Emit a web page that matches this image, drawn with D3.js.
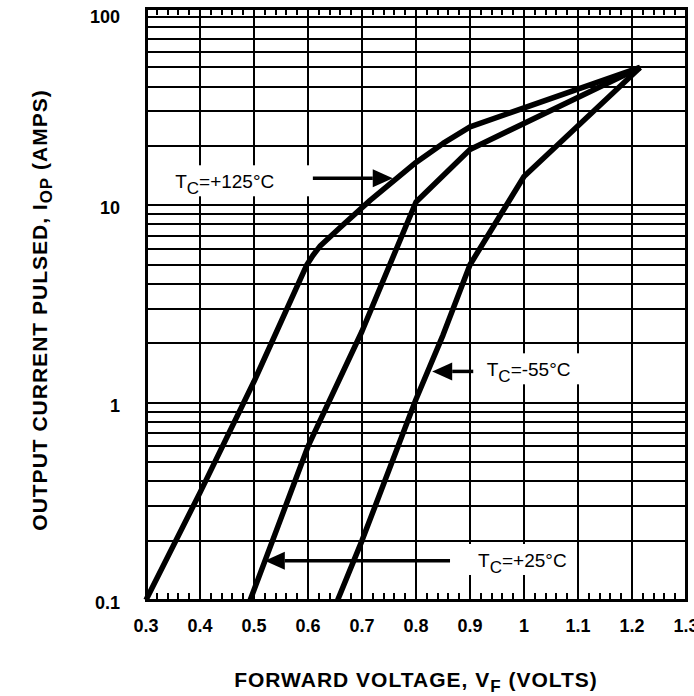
<!DOCTYPE html>
<html>
<head>
<meta charset="utf-8">
<script src="https://cdn.jsdelivr.net/npm/d3@7"></script>
<style>
  body { margin: 0; background: #fff; }
  svg { display: block; font-family: "Liberation Sans", Arial, Helvetica, sans-serif; }
</style>
</head>
<body>
<svg id="chart"></svg>
<script>
// curves: forward voltage (V) vs pulsed current (A)
var volts125 = [0.3, 0.4, 0.5, 0.598, 0.609, 0.622, 0.659, 0.715, 0.8, 0.85, 0.9, 1.215];
var amps125  = [0.1, 0.35, 1.28, 5.0, 5.57, 6.2, 7.7, 10.6, 16.5, 20.6, 25, 50];

var volts25 = [0.493, 0.6, 0.7, 0.8, 0.9, 1.215];
var amps25  = [0.1, 0.6, 2.3, 10.4, 19.2, 50];

var voltsM55 = [0.655, 0.7, 0.8, 0.85, 0.9, 1.0, 1.215];
var ampsM55  = [0.1, 0.2, 1.04, 2.2, 5.0, 14, 50];

var xTickLabels = ['0.3', '0.4', '0.5', '0.6', '0.7', '0.8', '0.9', '1', '1.1', '1.2', '1.3'];
var yTickLabels = ['0.1', '1', '10', '100'];

// annotations (in data units)
var noteText = ['=+125°C', '=-55°C', '=+25°C'];
var noteX    = [0.354, 0.931, 0.915];
var noteY    = [12.2, 1.36, 0.147];
var arrowX0  = [0.609, 0.906, 0.863];
var arrowX1  = [0.757, 0.83, 0.52];
var arrowY   = [13.7, 1.44, 0.158];

var width = 694, height = 696;
var plot = {left: 146, right: 686, top: 8, bottom: 600};

var svg = d3.select('#chart')
    .attr('width', width)
    .attr('height', height);

var x = d3.scaleLinear().domain([0.3, 1.3]).range([plot.left, plot.right]);
var y = d3.scaleLog().domain([0.1, 100]).range([plot.bottom, plot.top]);

// grid
var grid = svg.append('g').attr('class', 'grid')
    .attr('stroke', '#000')
    .attr('stroke-width', 2)
    .attr('shape-rendering', 'crispEdges');

grid.selectAll('line.h')
    .data(y.ticks())
    .enter().append('line')
    .attr('class', 'h')
    .attr('x1', plot.left).attr('x2', plot.right)
    .attr('y1', function(d) {return y(d);})
    .attr('y2', function(d) {return y(d);});

grid.selectAll('line.v')
    .data(xTickLabels.map(Number))
    .enter().append('line')
    .attr('class', 'v')
    .attr('y1', plot.top).attr('y2', plot.bottom)
    .attr('x1', function(d) {return x(d);})
    .attr('x2', function(d) {return x(d);});

// minor ticks every 0.02 along top and bottom
var minor = d3.range(15, 65).filter(function(i) {return i % 5 !== 0;})
    .map(function(i) {return i / 50;});
var ticks = svg.append('g').attr('class', 'minor')
    .attr('stroke', '#000')
    .attr('stroke-width', 2)
    .attr('shape-rendering', 'crispEdges');
ticks.selectAll('line.b')
    .data(minor)
    .enter().append('line')
    .attr('x1', function(d) {return x(d);})
    .attr('x2', function(d) {return x(d);})
    .attr('y1', plot.bottom).attr('y2', plot.bottom - 7);
ticks.selectAll('line.t')
    .data(minor)
    .enter().append('line')
    .attr('x1', function(d) {return x(d);})
    .attr('x2', function(d) {return x(d);})
    .attr('y1', plot.top).attr('y2', plot.top + 7);

// annotations: white box, label, arrow
var notes = svg.append('g').attr('class', 'notes');
noteText.forEach(function(t, i) {
    var g = notes.append('g');
    var box = g.append('rect').attr('fill', '#fff');
    var txt = g.append('text')
        .attr('x', x(noteX[i]))
        .attr('y', y(noteY[i]))
        .attr('font-size', 19)
        .attr('fill', '#000');
    txt.append('tspan').text('T');
    txt.append('tspan').text('C').attr('font-size', 17).attr('dy', 6);
    txt.append('tspan').text(t).attr('dy', -6);

    var bb = txt.node().getBBox();
    var left = bb.x - 12, right = bb.x + bb.width + 10;
    if (x(arrowX0[i]) > right) right = x(arrowX0[i]) - 1;
    box.attr('x', left).attr('y', bb.y - 6)
        .attr('width', right - left).attr('height', bb.height + 4);

    var ax0 = x(arrowX0[i]), ax1 = x(arrowX1[i]), ay = y(arrowY[i]);
    var dir = ax1 > ax0 ? 1 : -1;
    var headLen = 20, headHalf = 9;
    g.append('line')
        .attr('x1', ax0).attr('x2', ax1 - dir * headLen)
        .attr('y1', ay).attr('y2', ay)
        .attr('stroke', '#000')
        .attr('stroke-width', 3.5);
    g.append('path')
        .attr('d', 'M' + ax1 + ',' + ay +
            'L' + (ax1 - dir * headLen) + ',' + (ay - headHalf) +
            'L' + (ax1 - dir * headLen) + ',' + (ay + headHalf) + 'Z')
        .attr('fill', '#000');
});

// curves
var line = d3.line()
    .x(function(d) {return x(d[0]);})
    .y(function(d) {return y(d[1]);});

var curves = [d3.zip(volts125, amps125), d3.zip(volts25, amps25), d3.zip(voltsM55, ampsM55)];
svg.append('g').attr('class', 'curves')
    .selectAll('path')
    .data(curves)
    .enter().append('path')
    .attr('d', line)
    .attr('fill', 'none')
    .attr('stroke', '#000')
    .attr('stroke-width', 5.5)
    .attr('stroke-linejoin', 'round');

// border
svg.append('rect')
    .attr('x', plot.left).attr('y', plot.top)
    .attr('width', plot.right - plot.left)
    .attr('height', plot.bottom - plot.top)
    .attr('fill', 'none')
    .attr('stroke', '#000')
    .attr('stroke-width', 3)
    .attr('shape-rendering', 'crispEdges');

// tick labels
svg.append('g').attr('class', 'xlabels')
    .selectAll('text')
    .data(xTickLabels)
    .enter().append('text')
    .attr('x', function(d) {return x(+d);})
    .attr('y', 632)
    .attr('text-anchor', 'middle')
    .attr('font-size', 18)
    .attr('font-weight', 'bold')
    .text(function(d) {return d;});

svg.append('g').attr('class', 'ylabels')
    .selectAll('text')
    .data(yTickLabels)
    .enter().append('text')
    .attr('x', 120)
    .attr('y', function(d) {return Math.max(y(+d) + 9, 23);})
    .attr('text-anchor', 'end')
    .attr('font-size', 18)
    .attr('font-weight', 'bold')
    .text(function(d) {return d;});

// axis titles
var xTitle = svg.append('text')
    .attr('x', (plot.left + plot.right) / 2)
    .attr('y', 687)
    .attr('text-anchor', 'middle')
    .attr('font-size', 21)
    .attr('font-weight', 'bold')
    .attr('letter-spacing', 1);
xTitle.append('tspan').text('FORWARD VOLTAGE, V');
xTitle.append('tspan').text('F').attr('font-size', 17).attr('dy', 5);
xTitle.append('tspan').text(' (VOLTS)').attr('dy', -5);

var yTitle = svg.append('text')
    .attr('transform', 'translate(47,310) rotate(-90)')
    .attr('text-anchor', 'middle')
    .attr('font-size', 21)
    .attr('font-weight', 'bold')
    .attr('letter-spacing', 1);
yTitle.append('tspan').text('OUTPUT CURRENT PULSED, I');
yTitle.append('tspan').text('OP').attr('font-size', 17).attr('dy', 5);
yTitle.append('tspan').text(' (AMPS)').attr('dy', -5);
</script>
</body>
</html>
